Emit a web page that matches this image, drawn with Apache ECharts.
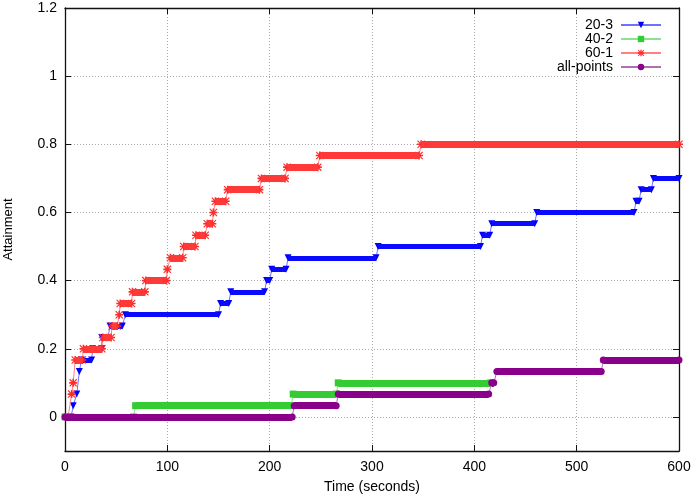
<!DOCTYPE html>
<html>
<head>
<meta charset="utf-8">
<script src="https://cdn.jsdelivr.net/npm/echarts@6/dist/echarts.min.js"></script>
<style>
  html, body { margin: 0; padding: 0; background: #fff; }
  #chart { width: 697px; height: 494px; }
</style>
</head>
<body>
<div id="chart"></div>
<script>
// each step: first and last sample time (seconds) and the attainment level held between them
const s20_3Start = [6, 8, 11.5, 14, 16, 27, 36, 44, 59, 152, 162, 197, 202, 218, 306, 408, 417, 461, 558, 563, 575];
const s20_3End   = [6, 8, 11.5, 14, 26, 36, 42, 56, 150, 160, 195, 200, 216, 304, 406, 415, 459, 556, 561, 573, 600];
const s20_3Level = [0, 0.033, 0.067, 0.133, 0.167, 0.2, 0.233, 0.267, 0.3, 0.333, 0.367, 0.4, 0.433, 0.467, 0.5, 0.533, 0.567, 0.6, 0.633, 0.667, 0.7];

const s40_2Start = [0, 69, 223, 267];
const s40_2End   = [67, 221, 265, 416];
const s40_2Level = [0, 0.033, 0.067, 0.1];

const s60_1Start = [3, 6.5, 8, 10, 18, 37, 46, 53, 54, 66, 79, 100, 103, 116, 128, 139, 145, 147, 159, 192, 217, 249, 348];
const s60_1End   = [3, 6.5, 8, 17, 36, 45, 51, 53, 65, 78, 99, 100, 115, 127, 137, 144, 145, 157, 190, 215, 247, 346, 600];
const s60_1Level = [0, 0.067, 0.1, 0.167, 0.2, 0.233, 0.267, 0.3, 0.333, 0.367, 0.4, 0.433, 0.467, 0.5, 0.533, 0.567, 0.6, 0.633, 0.667, 0.7, 0.733, 0.767, 0.8];

const allStart = [0, 224, 267, 417, 422, 526];
const allEnd   = [222, 265, 414, 419, 524, 600];
const allLevel = [0, 0.033, 0.067, 0.1, 0.133, 0.167];

const xTicks = { min: 0, max: 600, step: 100 };
const yRange = { min: -0.1, max: 1.2 };

const FONT = 'Liberation Sans, Arial, sans-serif';
const asterisk = 'path://M0,4H10V6H0Z M4,0H6V10H4Z M1,0L10,9L9,10L0,1Z M9,0L10,1L1,10L0,9Z';

function stepPoints(start, end, level) {
  const pts = [];
  start.forEach((s, i) => {
    pts.push([s, level[i]]);
    if (end[i] !== s) pts.push([end[i], level[i]]);
  });
  return pts;
}

function plateaus(start, end, level) {
  return start
    .map((s, i) => ({ coords: [[s, level[i]], [end[i], level[i]]] }))
    .filter(d => d.coords[0][0] !== d.coords[1][0]);
}

// thin connecting line with markers, then the dense-marker band on top of it
function pair(name, start, end, level, c, z) {
  return [
    {
      name: name,
      type: 'line',
      z: z,
      data: stepPoints(start, end, level),
      symbol: c.symbol,
      symbolSize: c.size,
      symbolRotate: c.rotate || 0,
      showSymbol: true,
      itemStyle: { color: c.mark },
      lineStyle: { color: c.line, width: 1 }
    },
    {
      name: name + ' band',
      type: 'lines',
      z: z + 1,
      coordinateSystem: 'cartesian2d',
      data: plateaus(start, end, level),
      lineStyle: { color: c.band, width: c.width, opacity: 1, cap: 'butt' }
    }
  ];
}

const chart = echarts.init(document.getElementById('chart'));

const axisLine = { show: true, onZero: false, lineStyle: { color: '#111', width: 1.3 } };
const inTick = { show: true, inside: true, length: 6, lineStyle: { color: '#111' } };
const dotted = { show: true, lineStyle: { color: '#a8a8a8', type: [1, 2], width: 1 } };

const option = {
  animation: false,
  grid: { left: 65, right: 18, top: 8, bottom: 43, containLabel: false, outerBoundsMode: 'none' },
  legend: {
    data: ['20-3', '40-2', '60-1', 'all-points'],
    orient: 'vertical',
    right: 30,
    top: 13,
    align: 'right',
    itemWidth: 40,
    itemHeight: 8,
    itemGap: 0,
    textStyle: { fontSize: 14, lineHeight: 14, color: '#000', fontFamily: FONT, padding: [0, 3, 0, 0] }
  },
  xAxis: [
    {
      type: 'value',
      min: xTicks.min, max: xTicks.max, interval: xTicks.step,
      name: 'Time (seconds)',
      nameLocation: 'middle',
      nameGap: 29,
      nameTextStyle: { fontSize: 14, color: '#000', fontFamily: FONT },
      axisLine: axisLine,
      axisTick: inTick,
      axisLabel: { fontSize: 14, color: '#000', margin: 9, fontFamily: FONT },
      splitLine: dotted
    },
    {
      type: 'value', position: 'top',
      min: xTicks.min, max: xTicks.max, interval: xTicks.step,
      axisLine: axisLine, axisTick: inTick,
      axisLabel: { show: false }, splitLine: { show: false }
    }
  ],
  yAxis: [
    {
      type: 'value',
      min: yRange.min, max: yRange.max, splitNumber: 6,
      name: 'Attainment',
      nameLocation: 'middle',
      nameRotate: 90,
      nameGap: 50,
      nameTextStyle: { fontSize: 13, color: '#000', fontFamily: FONT },
      axisLine: axisLine,
      axisTick: inTick,
      axisLabel: {
        fontSize: 14, color: '#000', margin: 8, fontFamily: FONT,
        formatter: v => (v < 0 ? '' : String(+v.toFixed(1)))
      },
      splitLine: dotted
    },
    {
      type: 'value', position: 'right',
      min: yRange.min, max: yRange.max, splitNumber: 6,
      axisLine: axisLine, axisTick: inTick,
      axisLabel: { show: false }, splitLine: { show: false }
    }
  ],
  series: [].concat(
    pair('20-3', s20_3Start, s20_3End, s20_3Level,
      { symbol: 'triangle', rotate: 180, size: 7, mark: '#0000ff', line: '#7070ff', band: '#0a0aff', width: 5 }, 2),
    pair('40-2', s40_2Start, s40_2End, s40_2Level,
      { symbol: 'rect', size: 7, mark: '#33cc33', line: '#8fe08f', band: '#33cc33', width: 7 }, 4),
    pair('60-1', s60_1Start, s60_1End, s60_1Level,
      { symbol: asterisk, size: 8, mark: '#ff2a2a', line: '#ff8080', band: '#ff3838', width: 7 }, 6),
    pair('all-points', allStart, allEnd, allLevel,
      { symbol: 'circle', size: 7, mark: '#8b008b', line: '#b070b0', band: '#8b008b', width: 7 }, 8)
  )
};

chart.setOption(option);
</script>
</body>
</html>
